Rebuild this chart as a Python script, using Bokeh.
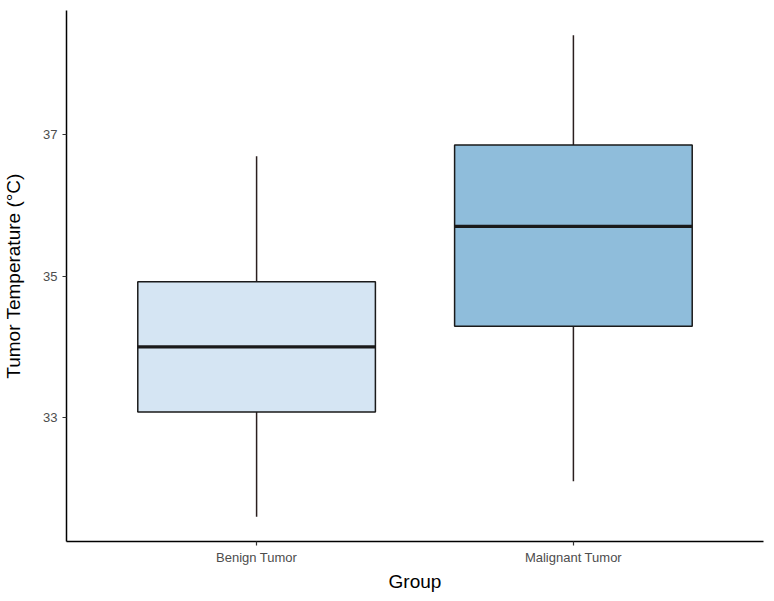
from bokeh.plotting import figure
from bokeh.models import Range1d, FixedTicker
from bokeh.embed import file_html
from bokeh.resources import INLINE

groups = ["Benign Tumor", "Malignant Tumor"]
positions = [1, 2]
whisker_low = [31.60, 32.10]
q1 = [33.08, 34.29]
median = [34.00, 35.70]
q3 = [34.92, 36.85]
whisker_high = [36.69, 38.40]
fills = ["#d5e5f3", "#8fbddb"]
y_ticks = [33, 35, 37]

box_width = 0.75
half = box_width / 2

p = figure(width=772, height=596, output_backend="svg", toolbar_location=None,
           x_range=Range1d(0.4, 2.6), y_range=Range1d(31.25, 38.75),
           min_border_left=0, min_border_right=8, min_border_top=10, min_border_bottom=0)
p.frame_width = 697
p.frame_height = 531

# whiskers
p.segment(x0=positions, y0=q3, x1=positions, y1=whisker_high, line_color="#2a1f1f", line_width=1.5)
p.segment(x0=positions, y0=q1, x1=positions, y1=whisker_low, line_color="#2a1f1f", line_width=1.5)
# boxes
p.vbar(x=positions, top=q3, bottom=q1, width=box_width, fill_color=fills,
       line_color="#1a1a1a", line_width=1.5)
# medians
p.segment(x0=[x - half for x in positions], y0=median, x1=[x + half for x in positions], y1=median,
          line_color="#1a1a1a", line_width=3.2)

p.xgrid.visible = False
p.ygrid.visible = False
p.outline_line_color = None
p.background_fill_color = "white"
p.border_fill_color = "white"

p.xaxis.ticker = FixedTicker(ticks=positions)
p.xaxis.major_label_overrides = {pos: g for pos, g in zip(positions, groups)}
p.yaxis.ticker = FixedTicker(ticks=y_ticks)

for ax in (p.xaxis, p.yaxis):
    ax.axis_line_color = "black"
    ax.axis_line_width = 1.5
    ax.major_tick_line_color = "#333333"
    ax.major_tick_line_width = 1.2
    ax.major_tick_in = 0
    ax.major_tick_out = 4
    ax.minor_tick_line_color = None
    ax.major_label_text_font = "Liberation Sans"
    ax.major_label_text_color = "#4d4d4d"
    ax.major_label_text_font_size = "13px"
    ax.axis_label_text_font = "Liberation Sans"
    ax.axis_label_text_font_style = "normal"
    ax.axis_label_text_font_size = "19px"
    ax.axis_label_text_color = "black"

p.xaxis.axis_label = "Group"
p.yaxis.axis_label = "Tumor Temperature (°C)"
p.xaxis.major_label_standoff = 4
p.xaxis.axis_label_standoff = 3
p.yaxis.major_label_standoff = 5
p.yaxis.axis_label_standoff = 16

open("out.html", "w").write(file_html(p, INLINE))
